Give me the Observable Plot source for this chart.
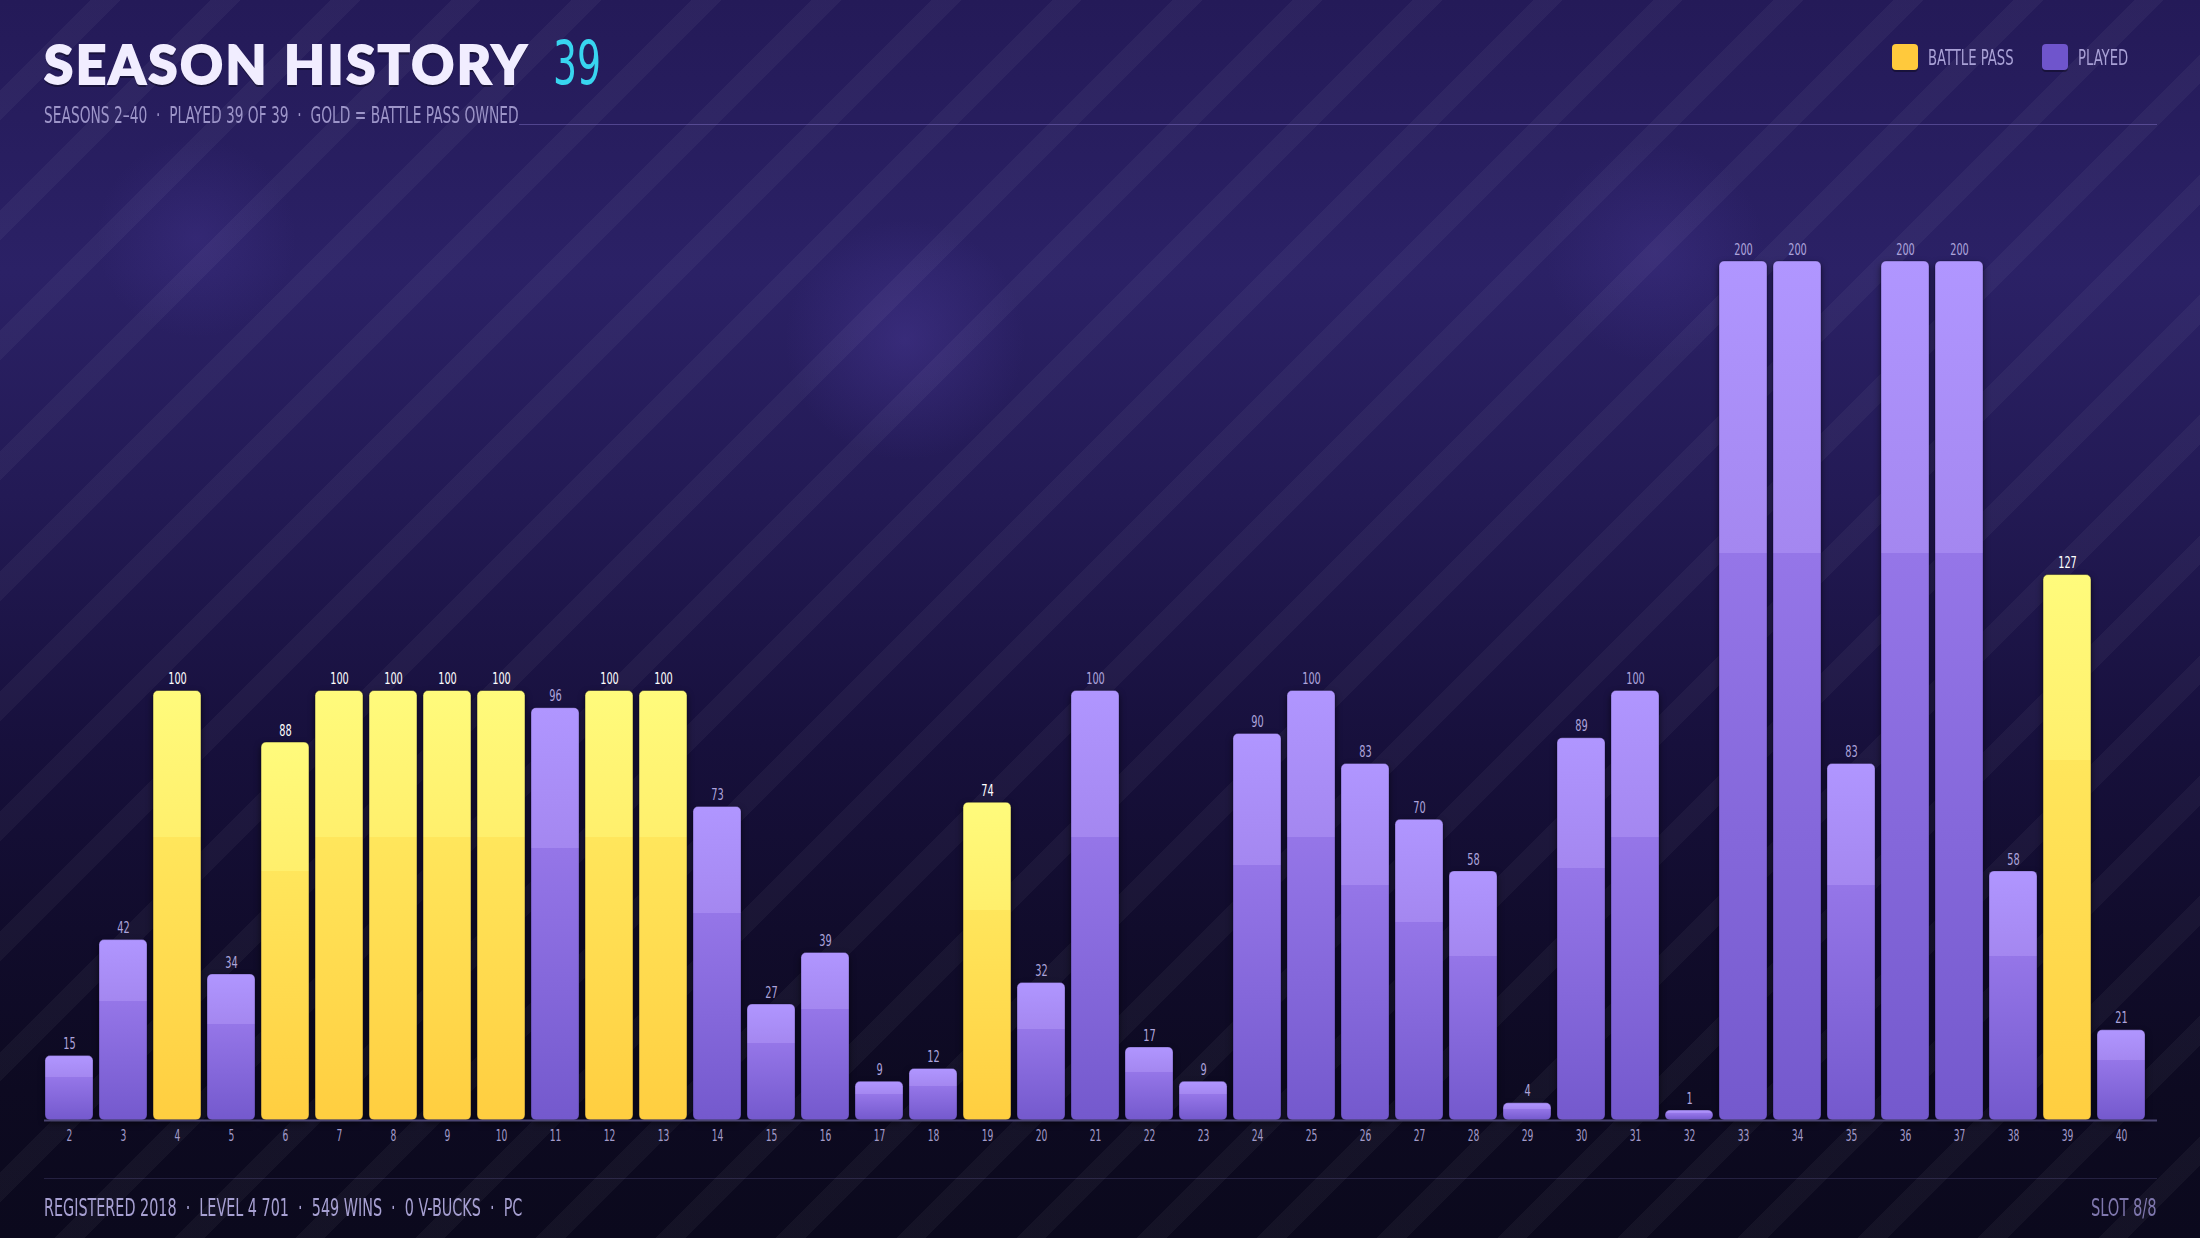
<!DOCTYPE html>
<html>
<head>
<meta charset="utf-8">
<script src="https://cdn.jsdelivr.net/npm/d3@7"></script>
<script src="https://cdn.jsdelivr.net/npm/@observablehq/plot@0.6"></script>
<style>
  html, body { margin: 0; padding: 0; width: 2200px; height: 1238px; overflow: hidden; }
  body {
    background:
      radial-gradient(circle at 905px 340px, rgba(95,75,185,0.28) 0, rgba(95,75,185,0) 120px),
      radial-gradient(circle at 196px 238px, rgba(95,75,185,0.18) 0, rgba(95,75,185,0) 100px),
      radial-gradient(circle at 1655px 252px, rgba(95,75,185,0.18) 0, rgba(95,75,185,0) 110px),
      linear-gradient(to bottom, #241a58 0%, #2b2166 22%, #231a55 40%, #17103c 60%, #110c2c 75%, #0d0a21 88%, #0b091d 100%);
  }
  #wrap { position: relative; width: 2200px; height: 1238px; }
  #stripes {
    position: absolute; inset: 0;
    background: repeating-linear-gradient(135deg, rgba(255,255,255,0) 0px, rgba(255,255,255,0) 64px, rgba(255,255,255,0.038) 64px, rgba(255,255,255,0.038) 85px);
  }
  #chart { position: absolute; left: 0; top: 0; }
  .cond { font-family: 'Liberation Sans Narrow', 'DejaVu Sans Condensed', 'Roboto Condensed', sans-serif; white-space: nowrap; transform-origin: 0 50%; }
  .condR { transform-origin: 100% 50%; }
  #title { position: absolute; left: 44px; top: 38px; font: 900 53px/52px Lato, 'Inter', sans-serif; color: #f1edff; letter-spacing: 2.5px; -webkit-text-stroke: 1.8px #f1edff; text-shadow: 0 3px 0 rgba(0,0,0,0.35); white-space: nowrap; }
  #num { position: absolute; left: 553px; top: 33px; font-size: 60px; line-height: 60px; color: #38d5ef; transform: scaleX(0.7); }
  #sub { position: absolute; left: 44px; top: 104px; font-size: 23px; line-height: 23px; color: #9d95c9; transform: scaleX(0.667); }
  #subline { position: absolute; left: 519px; top: 124px; width: 1638px; height: 1px; background: rgba(150,135,220,0.38); }
  .sw { position: absolute; top: 44px; width: 26px; height: 26px; border-radius: 4px; box-shadow: 0 2px 0 rgba(0,0,0,0.35); }
  .lg { position: absolute; top: 47px; font-size: 21px; line-height: 23px; color: #a9a1d6; transform: scaleX(0.7); }
  #footline { position: absolute; left: 44px; top: 1178px; width: 2113px; height: 1px; background: rgba(150,140,220,0.18); }
  #foot { position: absolute; left: 44px; top: 1196px; font-size: 24px; line-height: 24px; color: #a7a0d2; transform: scaleX(0.665); }
  #slot { position: absolute; right: 43px; top: 1196px; font-size: 24px; line-height: 24px; color: #7f77ad; transform: scaleX(0.68); }
  svg g[aria-label="bar"] { filter: drop-shadow(0px 3px 3px rgba(0,0,0,0.55)); }
</style>
</head>
<body>
<div id="wrap">
  <div id="stripes"></div>
  <div id="chart"></div>
  <div id="title">SEASON HISTORY</div>
  <div id="num" class="cond">39</div>
  <div id="sub" class="cond">SEASONS 2–40 &nbsp;·&nbsp; PLAYED 39 OF 39 &nbsp;·&nbsp; GOLD = BATTLE PASS OWNED</div>
  <div id="subline"></div>
  <div class="sw" style="left:1892px;background:#ffc93c"></div>
  <div class="lg cond" style="left:1928px">BATTLE PASS</div>
  <div class="sw" style="left:2042px;background:#6f55cc"></div>
  <div class="lg cond" style="left:2078px">PLAYED</div>
  <div id="footline"></div>
  <div id="foot" class="cond">REGISTERED 2018 &nbsp;·&nbsp; LEVEL 4 701 &nbsp;·&nbsp; 549 WINS &nbsp;·&nbsp; 0 V-BUCKS &nbsp;·&nbsp; PC</div>
  <div id="slot" class="cond condR">SLOT 8/8</div>
</div>
<script>
// ---- data ----
const seasons = ["2","3","4","5","6","7","8","9","10","11","12","13","14","15","16","17","18","19","20","21",
                 "22","23","24","25","26","27","28","29","30","31","32","33","34","35","36","37","38","39","40"];
const levels = [15,42,100,34,88,100,100,100,100,96,100,100,73,27,39,9,12,74,32,100,
                17,9,90,100,83,70,58,4,89,100,1,200,200,83,200,200,58,127,21];
const battlePass = [0,0,1,0,1,1,1,1,1,0,1,1,0,0,0,0,0,1,0,0,
                    0,0,0,0,0,0,0,0,0,0,0,0,0,0,0,0,0,1,0];
const yDomain = [0, 200];
const minVisible = 2.3; // smallest drawn bar height in level units

const table = seasons.map((s, i) => ({season: s, level: levels[i], bp: battlePass[i] === 1}));
const played = table.filter(d => !d.bp);
const gold = table.filter(d => d.bp);

const COND = "'Liberation Sans Narrow', 'DejaVu Sans Condensed', 'Roboto Condensed', sans-serif";
const barH = d => Math.max(d.level, minVisible);

const chart = Plot.plot({
  width: 2200,
  height: 1238,
  marginTop: 261,
  marginBottom: 118,
  marginLeft: 44,
  marginRight: 43,
  style: {background: "transparent", fontFamily: COND, overflow: "visible"},
  x: {domain: seasons, range: [45, 2145], paddingInner: 0.111, paddingOuter: 0, label: null},
  y: {domain: yDomain, axis: null},
  marks: [
    Plot.barY(played, {x: "season", y: barH, fill: "url(#gPlayed)", rx: 5, stroke: "#0b0820", strokeOpacity: 0.3, strokeWidth: 1}),
    Plot.barY(gold, {x: "season", y: barH, fill: "url(#gGold)", rx: 5, stroke: "#0b0820", strokeOpacity: 0.45, strokeWidth: 1}),
    Plot.ruleY([0], {stroke: "#4a4472", strokeWidth: 2}),
    Plot.text(played, {x: "season", y: barH, text: d => String(d.level), dy: -12, fill: "#ada4dc", fontSize: 16}),
    Plot.text(gold, {x: "season", y: barH, text: d => String(d.level), dy: -12, fill: "#ffffff", fontSize: 16}),
    Plot.axisX({tickSize: 0, tickPadding: 10, fontSize: 15, fill: "#a29bc9", label: null})
  ]
});

const defs = d3.select(chart).insert("defs", ":first-child");
const addGrad = (id, stops) => {
  const g = defs.append("linearGradient").attr("id", id).attr("x1", 0).attr("y1", 0).attr("x2", 0).attr("y2", 1);
  stops.forEach(([o, c]) => g.append("stop").attr("offset", o).attr("stop-color", c));
};
addGrad("gGold", [[0, "#fffb7c"], [0.34, "#ffef6c"], [0.34, "#ffe65c"], [1, "#ffce40"]]);
addGrad("gPlayed", [[0, "#b096ff"], [0.34, "#a487f0"], [0.34, "#9576e8"], [1, "#7459cd"]]);

// narrow the condensed labels horizontally around their anchor
d3.select(chart).selectAll("text").each(function () {
  const t = this.getAttribute("transform") || "";
  const x = +this.getAttribute("x") || 0;
  const y = +this.getAttribute("y") || 0;
  this.setAttribute("transform", `${t} translate(${x},${y}) scale(0.68,1) translate(${-x},${-y})`);
});

document.getElementById("chart").appendChild(chart);
</script>
</body>
</html>
